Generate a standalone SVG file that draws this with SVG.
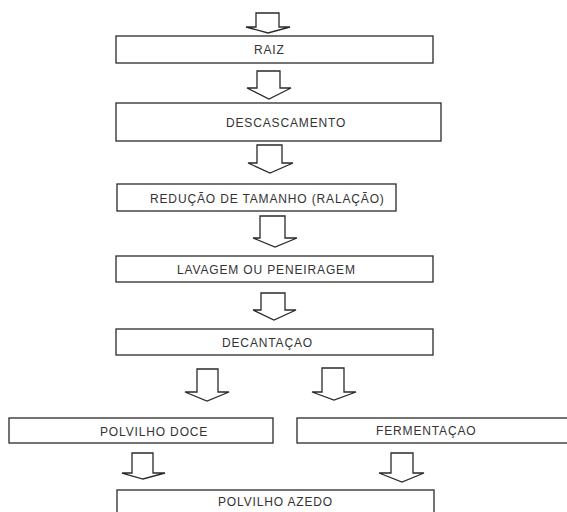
<svg xmlns="http://www.w3.org/2000/svg" width="567" height="512" viewBox="0 0 567 512">
<style>
.box{fill:#fff;stroke:#2a2a2a;stroke-width:1.3}
.arr{fill:#fff;stroke:#2a2a2a;stroke-width:1.3;stroke-linejoin:miter}
.lbl{font-family:"Liberation Sans",Arial,sans-serif;font-size:12px;letter-spacing:0.85px;fill:#333}
</style>
<rect width="567" height="512" fill="#fff"/>
<g id="connectors">
<path class="arr" d="M256,13 L279,13 L279,27 L290,27 L268,33 L246,27 L256,27 Z"/>
<path class="arr" d="M257,71 L280,71 L280,88 L291,88 L269,99 L247,88 L257,88 Z"/>
<path class="arr" d="M257,145 L282,145 L282,163 L293,163 L270,173 L248,163 L257,163 Z"/>
<path class="arr" d="M260,216 L285,216 L285,238 L297,238 L275,247 L253,238 L260,238 Z"/>
<path class="arr" d="M261,293 L285,293 L285,310 L296,310 L274,320 L253,310 L261,310 Z"/>
<path class="arr" d="M197,369 L218,369 L218,392 L229,392 L207,401 L185,392 L197,392 Z"/>
<path class="arr" d="M322,368 L344,368 L344,392 L356,392 L334,400 L312,392 L322,392 Z"/>
<path class="arr" d="M132,453 L153,453 L153,473 L165,473 L143,479 L122,473 L132,473 Z"/>
<path class="arr" d="M391,453 L413,453 L413,473 L424,473 L402,482 L379,473 L391,473 Z"/>
</g>
<g id="raiz"><rect class="box" x="116" y="36" width="317" height="27"/><text class="lbl" x="254" y="54">RAIZ</text></g>
<g id="descascamento"><rect class="box" x="116" y="103" width="325" height="38"/><text class="lbl" x="226" y="127">DESCASCAMENTO</text></g>
<g id="reducao"><rect class="box" x="117" y="184" width="279" height="27"/><text class="lbl" x="150" y="203">REDUÇÃO DE TAMANHO (RALAÇÃO)</text></g>
<g id="lavagem"><rect class="box" x="116" y="256" width="317" height="26"/><text class="lbl" x="177" y="274">LAVAGEM OU PENEIRAGEM</text></g>
<g id="decantacao"><rect class="box" x="116" y="329" width="317" height="26"/><text class="lbl" x="222" y="347">DECANTAÇAO</text></g>
<g id="polvilho-doce"><rect class="box" x="9" y="418" width="264" height="25"/><text class="lbl" x="100" y="436">POLVILHO DOCE</text></g>
<g id="fermentacao"><rect class="box" x="297" y="418" width="280" height="25"/><text class="lbl" x="376" y="435">FERMENTAÇAO</text></g>
<g id="polvilho-azedo"><rect class="box" x="117" y="490" width="317" height="30"/><text class="lbl" x="218" y="506">POLVILHO AZEDO</text></g>
</svg>
